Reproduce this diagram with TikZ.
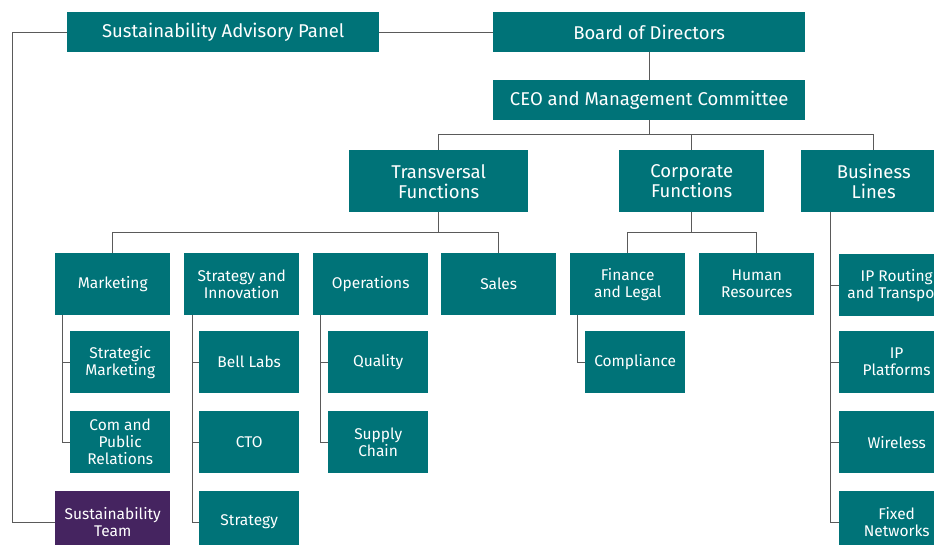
\documentclass[tikz,border=0pt]{standalone}
\usepackage{fontspec}
\setmainfont{Fira Sans}
\definecolor{teal1}{RGB}{0,115,120}
\definecolor{purp1}{RGB}{69,36,96}
\definecolor{line1}{RGB}{90,90,90}
\begin{document}
\begin{tikzpicture}[x=1pt,y=-1pt,
  box/.style={draw=none,fill=teal1,text=white,rectangle,inner sep=0pt,anchor=north west,align=center},
  big/.style={box,font=\fontsize{18.5}{20}\selectfont,minimum height=40pt},
  mid/.style={box,font=\fontsize{18.5}{20}\selectfont,minimum height=62pt},
  small/.style={box,font=\fontsize{15.5}{17}\selectfont,minimum height=62pt,minimum width=115pt},
  conn/.style={draw=line1,line width=1pt}]
\clip (0,0) rectangle (934,545);
\useasboundingbox (0,0) rectangle (934,545);
% top
\node[big,minimum width=312pt] (sap) at (67,12) {Sustainability Advisory Panel};
\node[big,minimum width=312pt] (board) at (493,12) {Board of Directors};
\node[big,minimum width=312pt] (ceo) at (493,80) {CEO and Management Committee};
% level 2
\node[mid,minimum width=179pt] (trans) at (349,150) {Transversal\\Functions};
\node[mid,minimum width=145pt] (corp) at (619,150) {Corporate\\Functions};
\node[mid,minimum width=145pt] (bus) at (801,150) {Business\\Lines};
% level 3
\node[small] (mkt) at (55,253) {Marketing};
\node[small] (si) at (184,253) {Strategy and\\Innovation};
\node[small] (ops) at (313,253) {Operations};
\node[small] (sales) at (441,253) {Sales};
\node[small] (fin) at (570,253) {Finance\\and Legal};
\node[small] (hr) at (699,253) {Human\\Resources};
% sub boxes
\node[small,minimum width=100pt] (stm) at (70,331) {Strategic\\Marketing};
\node[small,minimum width=100pt] (com) at (70,411) {Com and\\Public\\Relations};
\node[small,fill=purp1] (team) at (55,491) {Sustainability\\Team};
\node[small,minimum width=100pt] (bell) at (199,331) {Bell Labs};
\node[small,minimum width=100pt] (cto) at (199,411) {CTO};
\node[small,minimum width=100pt] (strat) at (199,491) {Strategy};
\node[small,minimum width=100pt] (qual) at (328,331) {Quality};
\node[small,minimum width=100pt] (sup) at (328,411) {Supply\\Chain};
\node[small,minimum width=100pt] (comp) at (585,331) {Compliance};
\node[small] (iprt) at (839,254) {IP Routing\\and Transport};
\node[small] (ipp) at (839,331) {IP\\Platforms};
\node[small] (wl) at (839,411) {Wireless};
\node[small] (fn) at (839,491) {Fixed\\Networks};
% connectors
\draw[conn] (sap.east) -- (board.west);
\draw[conn] (sap.west) -- ++(-55,0) |- (team.west);
\draw[conn] (board.south) -- (ceo.north);
\draw[conn] (ceo.south) -- ++(0,14) coordinate (b1);
\draw[conn] (trans.north) |- (b1) -| (bus.north);
\draw[conn] (corp.north) -- (corp.north |- b1);
\draw[conn] (trans.south) -- ++(0,20) coordinate (t1);
\draw[conn] (mkt.north) |- (t1) -| (sales.north);
\draw[conn] (corp.south) -- ++(0,20) coordinate (c1);
\draw[conn] (fin.north) |- (c1) -| (hr.north);
\draw[conn] ([xshift=7pt]mkt.south west) |- (stm.west);
\draw[conn] ([xshift=7pt]mkt.south west) |- (com.west);
\draw[conn] ([xshift=8pt]si.south west) |- (bell.west);
\draw[conn] ([xshift=8pt]si.south west) |- (cto.west);
\draw[conn] ([xshift=8pt]si.south west) |- (strat.west);
\draw[conn] ([xshift=7pt]ops.south west) |- (qual.west);
\draw[conn] ([xshift=7pt]ops.south west) |- (sup.west);
\draw[conn] ([xshift=7pt]fin.south west) |- (comp.west);
\draw[conn] ([xshift=29pt]bus.south west) |- (iprt.west);
\draw[conn] ([xshift=29pt]bus.south west) |- (ipp.west);
\draw[conn] ([xshift=29pt]bus.south west) |- (wl.west);
\draw[conn] ([xshift=29pt]bus.south west) |- (fn.west);
\end{tikzpicture}
\end{document}
